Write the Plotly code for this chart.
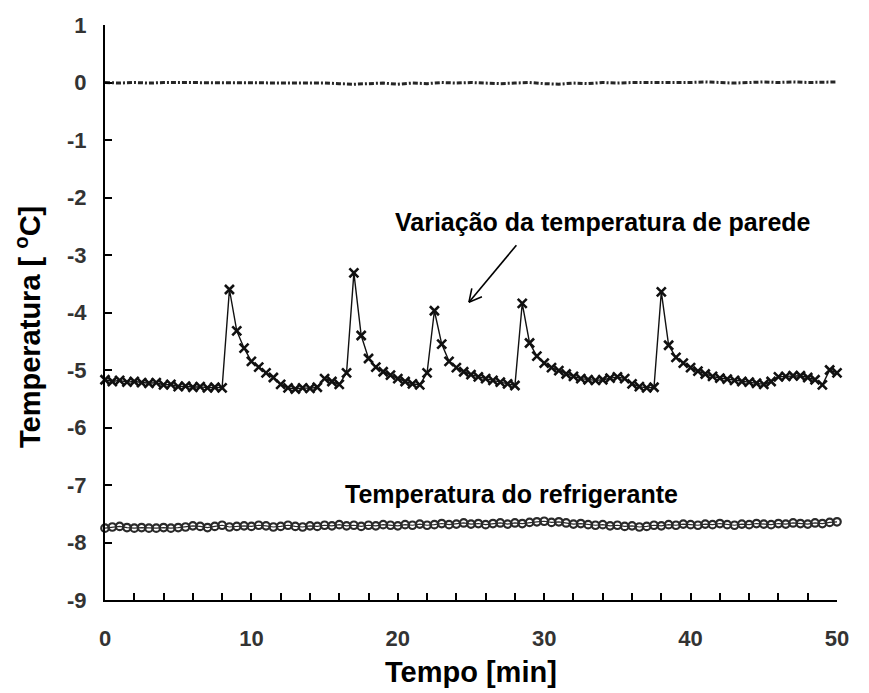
import math
import plotly.graph_objects as go

# ---------------- data ----------------
time_wall = [i * 0.5 for i in range(101)]
wall_temp = [
    -5.17, -5.20, -5.18, -5.21, -5.20, -5.22, -5.23, -5.22, -5.26, -5.25,   # 0 - 4.5
    -5.29, -5.28, -5.30, -5.29, -5.31, -5.30, -5.31, -3.60, -4.32, -4.62,   # 5 - 9.5
    -4.85, -4.95, -5.05, -5.13, -5.25, -5.31, -5.33, -5.31, -5.32, -5.30,   # 10 - 14.5
    -5.15, -5.20, -5.25, -5.05, -3.31, -4.40, -4.80, -4.95, -5.03, -5.09,   # 15 - 19.5
    -5.15, -5.20, -5.24, -5.26, -5.05, -3.97, -4.55, -4.85, -4.96, -5.03,   # 20 - 24.5
    -5.08, -5.12, -5.15, -5.18, -5.21, -5.24, -5.27, -3.84, -4.53, -4.76,   # 25 - 29.5
    -4.88, -4.96, -5.01, -5.07, -5.11, -5.15, -5.17, -5.18, -5.17, -5.14,   # 30 - 34.5
    -5.12, -5.15, -5.24, -5.29, -5.31, -5.30, -3.64, -4.57, -4.78, -4.88,   # 35 - 39.5
    -4.96, -5.02, -5.07, -5.11, -5.14, -5.16, -5.18, -5.20, -5.21, -5.23,   # 40 - 44.5
    -5.25, -5.20, -5.12, -5.11, -5.10, -5.10, -5.13, -5.17, -5.26, -5.00,   # 45 - 49.5
    -5.05,                                                                  # 50
]

time_ref = [i * 0.5 for i in range(101)]
refrigerant_temp = [
    -7.75, -7.73, -7.72, -7.74, -7.75, -7.74, -7.75, -7.75, -7.74, -7.75,
    -7.74, -7.73, -7.71, -7.72, -7.74, -7.72, -7.70, -7.73, -7.72, -7.71,
    -7.72, -7.70, -7.71, -7.73, -7.72, -7.70, -7.72, -7.73, -7.71, -7.72,
    -7.70, -7.71, -7.69, -7.71, -7.70, -7.72, -7.70, -7.71, -7.69, -7.70,
    -7.71, -7.69, -7.70, -7.68, -7.70, -7.69, -7.67, -7.69, -7.68, -7.66,
    -7.68, -7.67, -7.69, -7.67, -7.66, -7.68, -7.66, -7.67, -7.65, -7.64,
    -7.63, -7.65, -7.64, -7.66, -7.68, -7.67, -7.69, -7.70, -7.69, -7.71,
    -7.70, -7.72, -7.71, -7.73, -7.72, -7.70, -7.71, -7.69, -7.70, -7.68,
    -7.69, -7.70, -7.68, -7.69, -7.67, -7.69, -7.70, -7.68, -7.69, -7.67,
    -7.68, -7.69, -7.67, -7.68, -7.66, -7.67, -7.68, -7.66, -7.67, -7.65,
    -7.64,
]

time_zero = list(range(51))
zero_line = [
    0.00, -0.01, 0.00, -0.01, 0.00, 0.00, -0.01, 0.00, -0.01, 0.00,
    0.00, -0.01, 0.00, 0.00, -0.01, -0.01, -0.02, -0.03, -0.02, -0.01,
    -0.03, -0.01, -0.02, 0.00, -0.01, 0.00, -0.01, -0.02, -0.01, 0.00,
    -0.02, -0.03, -0.01, -0.02, 0.00, -0.01, 0.00, 0.00, -0.01, 0.00,
    0.00, 0.01, 0.00, -0.01, 0.00, 0.01, 0.00, 0.01, 0.00, 0.00,
    0.01,
]

x_ticks = [0, 10, 20, 30, 40, 50]
y_ticks = [1, 0, -1, -2, -3, -4, -5, -6, -7, -8, -9]

assert len(wall_temp) == len(time_wall)
assert len(refrigerant_temp) == len(time_ref)
assert len(zero_line) == len(time_zero)

FONT = "Liberation Sans"
W, H = 869, 693
ML, MR, MT, MB = 105, 32, 25, 93
X_RANGE = [0, 50]
Y_RANGE = [-9, 1]
px_per_x = (W - ML - MR) / (X_RANGE[1] - X_RANGE[0])
px_per_y = (H - MT - MB) / (Y_RANGE[1] - Y_RANGE[0])

fig = go.Figure()

fig.add_trace(go.Scatter(
    x=time_zero, y=zero_line, mode="lines",
    line=dict(color="#262626", width=3, dash="5px,2px,2px,2px"),
    cliponaxis=False, showlegend=False,
))

fig.add_trace(go.Scatter(
    x=time_wall, y=wall_temp, mode="lines+markers",
    line=dict(color="#111111", width=1.4),
    marker=dict(symbol="x-thin-open", size=9, line=dict(color="#111111", width=2.6)),
    cliponaxis=False, showlegend=False,
))

fig.add_trace(go.Scatter(
    x=time_ref, y=refrigerant_temp, mode="lines+markers",
    line=dict(color="#2a2a2a", width=1.2),
    marker=dict(symbol="circle-open", size=7.5, line=dict(color="#241a1d", width=2.2)),
    cliponaxis=False, showlegend=False,
))

tickfont = dict(family=FONT, size=22, color="#333333", weight="bold")

fig.update_xaxes(
    range=X_RANGE, tickvals=x_ticks, ticktext=[str(v) for v in x_ticks],
    ticks="inside", ticklen=7, tickwidth=1.5, tickcolor="black",
    minor=dict(dtick=2, ticks="inside", ticklen=7, tickwidth=1.5, tickcolor="black"),
    showline=True, linecolor="black", linewidth=2,
    showgrid=False, zeroline=False, tickfont=tickfont, ticklabelstandoff=18,
)
fig.update_yaxes(
    range=Y_RANGE, tickvals=y_ticks, ticktext=[str(v) for v in y_ticks],
    ticks="inside", ticklen=7, tickwidth=1.5, tickcolor="black",
    showline=True, linecolor="black", linewidth=2,
    showgrid=False, zeroline=False, tickfont=tickfont, ticklabelstandoff=12,
)

# arrow pointing to the wall-temperature curve (open V head drawn with shapes)
head = (24.86, -3.82)
tail = (28.1, -2.83)
dxp = (tail[0] - head[0]) * px_per_x
dyp = (tail[1] - head[1]) * px_per_y
norm = math.hypot(dxp, dyp)
ux, uy = dxp / norm, dyp / norm
arm = 14
shapes = [dict(type="line", xref="x", yref="y", x0=head[0], y0=head[1],
               x1=tail[0], y1=tail[1], line=dict(color="black", width=1.6))]
for ang in (math.radians(28), math.radians(-28)):
    rx = ux * math.cos(ang) - uy * math.sin(ang)
    ry = ux * math.sin(ang) + uy * math.cos(ang)
    shapes.append(dict(type="line", xref="x", yref="y", x0=head[0], y0=head[1],
                       x1=head[0] + rx * arm / px_per_x, y1=head[1] + ry * arm / px_per_y,
                       line=dict(color="black", width=1.6)))

ann_font = dict(family=FONT, size=25, color="black", weight="bold")
title_font = dict(family=FONT, size=29, color="black", weight="bold")

fig.update_layout(
    width=W, height=H,
    margin=dict(l=ML, r=MR, t=MT, b=MB),
    plot_bgcolor="white", paper_bgcolor="white",
    shapes=shapes,
    annotations=[
        dict(text="Variação da temperatura de parede", x=34.0, y=-2.43,
             xref="x", yref="y", showarrow=False, font=ann_font),
        dict(text="Temperatura do refrigerante", x=27.8, y=-7.16,
             xref="x", yref="y", showarrow=False, font=ann_font),
        dict(text="Tempo [min]", x=0.5, y=-0.125, xref="paper", yref="paper",
             showarrow=False, font=title_font, yanchor="middle"),
        dict(text="Temperatura [ <sup>o</sup>C]", x=-0.105, y=0.475,
             xref="paper", yref="paper", textangle=-90,
             showarrow=False, font=title_font, xanchor="center"),
    ],
)

fig.write_html("out.html")
